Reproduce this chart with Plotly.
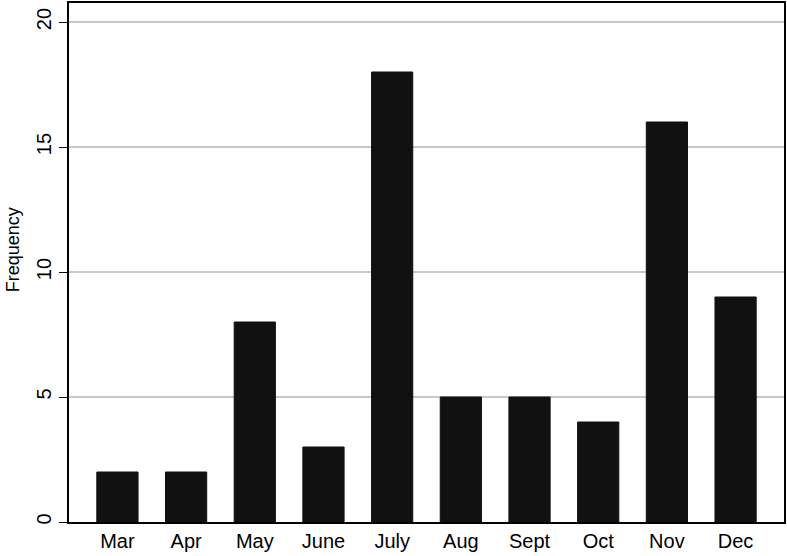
import plotly.graph_objects as go

months = ['Mar', 'Apr', 'May', 'June', 'July', 'Aug', 'Sept', 'Oct', 'Nov', 'Dec']
frequency = [2, 2, 8, 3, 18, 5, 5, 4, 16, 9]
y_ticks = [0, 5, 10, 15, 20]

fig = go.Figure(go.Bar(
    x=months,
    y=frequency,
    width=0.6,
    marker=dict(color='#111111', line=dict(color='#111111', width=1)),
))

fig.update_layout(
    width=787,
    height=556,
    margin=dict(l=69, r=3, t=3, b=34),
    paper_bgcolor='white',
    plot_bgcolor='white',
    font=dict(family='Liberation Sans, Arial, sans-serif', size=20, color='black'),
    showlegend=False,
    xaxis=dict(
        range=[-0.705, 9.705],
        automargin=False,
        showgrid=False,
        ticks='',
        tickfont=dict(size=20),
        showline=True,
        linecolor='black',
        linewidth=2,
        mirror=True,
    ),
    yaxis=dict(
        automargin=False,
        range=[0, 20.76],
        tickvals=y_ticks,
        tickangle=-90,
        tickfont=dict(size=20),
        ticks='outside',
        ticklen=8,
        tickcolor='black',
        showgrid=True,
        gridcolor='#c8c8c8',
        gridwidth=1.5,
        showline=True,
        linecolor='black',
        linewidth=2,
        mirror=True,
        zeroline=False,
    ),
    # y title as annotation, sits a little above the axis middle like the source
    annotations=[dict(
        text='Frequency',
        xref='paper', yref='paper',
        x=-0.078, y=0.524,
        xanchor='center', yanchor='middle',
        textangle=-90,
        showarrow=False,
        font=dict(size=18),
    )],
)

# drop the default page margin so the figure sits at the window corner
fig.write_html("out.html", config={'displayModeBar': False},
               post_script="document.body.style.margin='0';")
